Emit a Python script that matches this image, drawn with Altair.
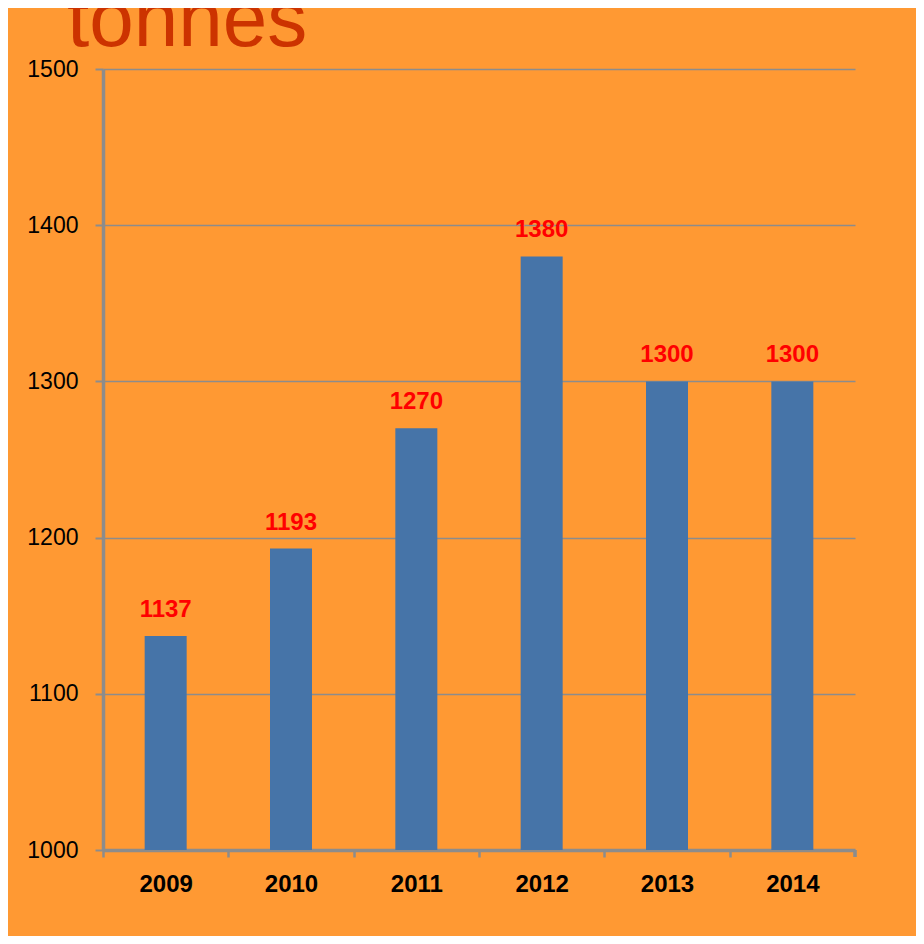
import altair as alt
import pandas as pd

years = ["2009", "2010", "2011", "2012", "2013", "2014"]
tonnes = [1137, 1193, 1270, 1380, 1300, 1300]
y_ticks = [1000, 1100, 1200, 1300, 1400, 1500]
title_text = ["tonnes"]

df = pd.DataFrame({"year": years, "tonnes": tonnes})
tdf = pd.DataFrame({"t": title_text})

W, H = 752, 781
STEP = W / len(years)
GRAY = "#8C8C8C"

x_enc = alt.X(
    "year:N",
    sort=years,
    scale=alt.Scale(paddingInner=0, paddingOuter=0),
    axis=alt.Axis(
        title=None,
        labelAngle=0,
        labelFont="Liberation Sans",
        labelFontSize=24,
        labelFontWeight="bold",
        labelColor="#000000",
        labelPadding=15,
        tickOffset=-STEP / 2,
        labelOffset=STEP / 2,
        tickSize=7,
        tickWidth=2.5,
        tickColor=GRAY,
        domainColor=GRAY,
        domainWidth=3.5,
        grid=False,
    ),
)

y_enc = alt.Y(
    "tonnes:Q",
    scale=alt.Scale(domain=[1000, 1500], zero=False, nice=False),
    axis=alt.Axis(
        title=None,
        values=y_ticks,
        format="d",
        labelFont="Liberation Sans",
        labelFontSize=23,
        labelColor="#000000",
        labelPadding=17,
        tickSize=8,
        tickWidth=2,
        tickColor=GRAY,
        domainColor=GRAY,
        domainWidth=3.5,
        grid=True,
        gridColor=GRAY,
        gridWidth=1.6,
    ),
)

bars = alt.Chart(df).mark_bar(size=42, color="#4674A8").encode(
    x=x_enc, y=y_enc, y2=alt.datum(1000)
)

labels = alt.Chart(df).mark_text(
    dy=-19,
    baseline="alphabetic",
    font="Liberation Sans",
    fontSize=24,
    fontWeight="bold",
    color="#FF0000",
).encode(x=alt.X("year:N", sort=years), y="tonnes:Q", text="tonnes:Q")

end_tick = alt.Chart(df).mark_rule(color=GRAY, strokeWidth=2.5).encode(
    x=alt.value(W), y=alt.value(H), y2=alt.value(H + 7)
)

title = alt.Chart(tdf).mark_text(
    align="left",
    baseline="alphabetic",
    font="Liberation Sans",
    fontSize=80,
    color="#CC3300",
).encode(x=alt.value(-36), y=alt.value(-23), text="t:N")

chart = (
    alt.layer(bars, labels, end_tick, title)
    .properties(
        width=W,
        height=H,
        background="#FF9933",
        autosize=alt.AutoSizeParams(type="none"),
        padding={"left": 95, "top": 61, "right": 61, "bottom": 86},
    )
    .configure_view(stroke=None)
)

chart.save("out.html", embed_options={"renderer": "svg", "actions": False})
